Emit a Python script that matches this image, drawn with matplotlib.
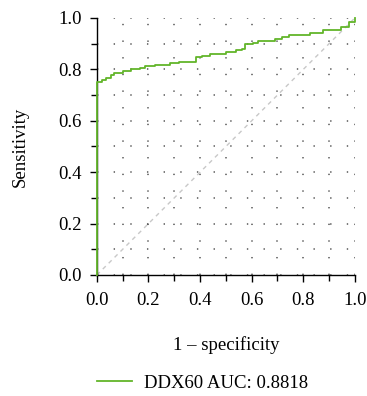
import matplotlib
matplotlib.use("Agg")
import matplotlib.pyplot as plt
from matplotlib.ticker import MultipleLocator

# ROC steps (steps-post: tpr holds until next fpr)
fpr = [0.0, 0.0, 0.02, 0.037, 0.053, 0.067, 0.1, 0.134, 0.167, 0.186,
       0.225, 0.283, 0.319, 0.386, 0.406, 0.438, 0.502, 0.541, 0.561,
       0.574, 0.606, 0.625, 0.69, 0.716, 0.745, 0.826, 0.877, 0.946,
       0.977, 1.0]
tpr = [0.0, 0.75, 0.757, 0.767, 0.778, 0.787, 0.792, 0.803, 0.807, 0.813,
       0.818, 0.823, 0.827, 0.847, 0.853, 0.86, 0.869, 0.874, 0.88,
       0.897, 0.902, 0.912, 0.92, 0.927, 0.935, 0.942, 0.955, 0.966,
       0.983, 1.0]
label = "DDX60 AUC: 0.8818"
ticks = [0.0, 0.2, 0.4, 0.6, 0.8, 1.0]

plt.rcParams['font.family'] = ['Liberation Serif', 'DejaVu Serif']
plt.rcParams['font.size'] = 13.5

fig = plt.figure(figsize=(3.67, 3.96), dpi=100)
ax = fig.add_axes([0.264, 0.3056, 0.703, 0.649])

# chance line
ax.plot([0, 1], [0, 1], color='#c8c8c8', lw=1.0, ls=(0, (3, 3)), zorder=2)
ax.plot(fpr, tpr, drawstyle='steps-post', color='#62b52a', lw=1.3,
        label=label, clip_on=False, zorder=3)

ax.set_xlim(0, 1)
ax.set_ylim(0, 1)
ax.set_xticks(ticks)
ax.set_yticks(ticks)
ax.set_xticklabels([f"{t:.1f}" for t in ticks])
ax.set_yticklabels([f"{t:.1f}" for t in ticks])
ax.xaxis.set_minor_locator(MultipleLocator(0.1))
ax.yaxis.set_minor_locator(MultipleLocator(0.1))
ax.tick_params(which='major', length=5, width=1, direction='out')
ax.tick_params(which='minor', length=4, width=1, direction='out')
ax.tick_params(axis='x', which='major', pad=7)
ax.tick_params(axis='y', which='major', pad=6)

ax.grid(True, which='both', color='#555555', lw=1.1, ls=(0, (0.9, 10)))
for s in ['top', 'right']:
    ax.spines[s].set_visible(False)
for s in ['left', 'bottom']:
    ax.spines[s].set_linewidth(1.0)

ax.set_xlabel("1 \u2013 specificity")
ax.set_ylabel("Sensitivity")
ax.xaxis.set_label_coords(0.5, -0.272)
ax.yaxis.set_label_coords(-0.298, 0.5)
ax.xaxis.label.set_va('center')
ax.yaxis.label.set_va('center')

fig.legend(loc='center', bbox_to_anchor=(0.551, 0.032), frameon=False,
           handlelength=1.9, handletextpad=0.6)

fig.savefig("out.png", dpi=100)
